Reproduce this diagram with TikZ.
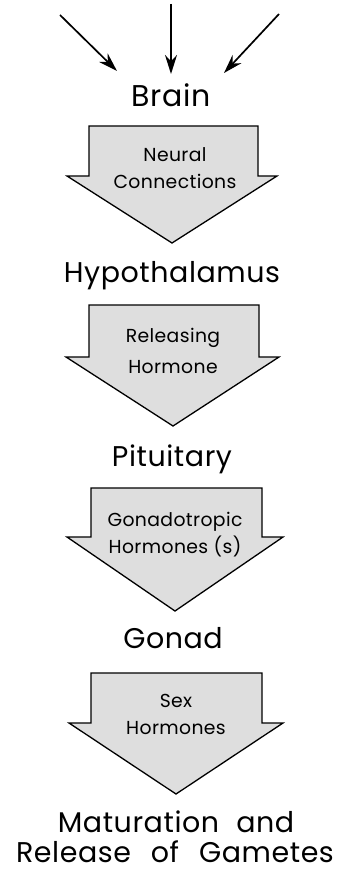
\documentclass[tikz,border=0pt]{standalone}
\usepackage{fontspec}
\setmainfont[LetterSpace=2]{Poppins}
\usetikzlibrary{arrows.meta}
\begin{document}
\begin{tikzpicture}[x=1pt,y=-1pt,
  organ/.style={anchor=base,inner sep=0pt,font=\fontsize{28.5}{30}\selectfont},
  lbl/.style={anchor=base,inner sep=0pt,font=\fontsize{18.8}{20}\selectfont},
  blockarrow/.style={draw=black,line width=1.3pt,fill=black!13,line join=miter},
  inarrow/.style={line width=1.7pt,-{Stealth[length=19pt,width=12pt]}}]
\useasboundingbox (0,0) rectangle (343,877);
% incoming arrows
\coordinate (l0) at (60,15); \coordinate (l1) at (117,71);
\coordinate (m0) at (171,4);  \coordinate (m1) at (171,74);
\coordinate (r0) at (279,14); \coordinate (r1) at (224,73);
\draw[inarrow] (l0) -- (l1);
\draw[inarrow] (m0) -- (m1);
\draw[inarrow] (r0) -- (r1);
% organ labels
\node[organ,font=\fontsize{30}{32}\selectfont] (brain) at (171,107) {Brain};
\node[organ] (hypo) at (172,282) {Hypothalamus};
\node[organ] (pit) at (172,466) {Pituitary};
\node[organ] (gon) at (173,648) {Gonad};
\node[organ] (mat) at (176,832) {Maturation\hspace{0.6em}and};
\node[organ] (rel) at (175,862) {Release\hspace{0.7em}of\hspace{0.7em}Gametes};
% block arrows
\draw[blockarrow] (89,126) -- (258,126) -- (258,176) -- (277,176) -- (172,243) -- (67,176) -- (89,176) -- cycle;
\draw[blockarrow] (89,305) -- (259,305) -- (259,357) -- (279,357) -- (173,426) -- (66,357) -- (89,357) -- cycle;
\draw[blockarrow] (91,488) -- (262,488) -- (262,537) -- (283,537) -- (175,611) -- (67,537) -- (91,537) -- cycle;
\draw[blockarrow] (91,673) -- (262,673) -- (262,723) -- (283,723) -- (176,794) -- (69,723) -- (91,723) -- cycle;
% arrow labels
\node[lbl] (a1) at (175,162) {Neural};
\node[lbl] (a1b) at (175,189) {Connections};
\node[lbl] (a2) at (173,342) {Releasing};
\node[lbl] (a2b) at (173,373) {Hormone};
\node[lbl] (a3) at (175,526) {Gonadotropic};
\node[lbl] (a3b) at (175,553) {Hormones (s)};
\node[lbl] (a4) at (176,707) {Sex};
\node[lbl] (a4b) at (176,734) {Hormones};
\end{tikzpicture}
\end{document}
